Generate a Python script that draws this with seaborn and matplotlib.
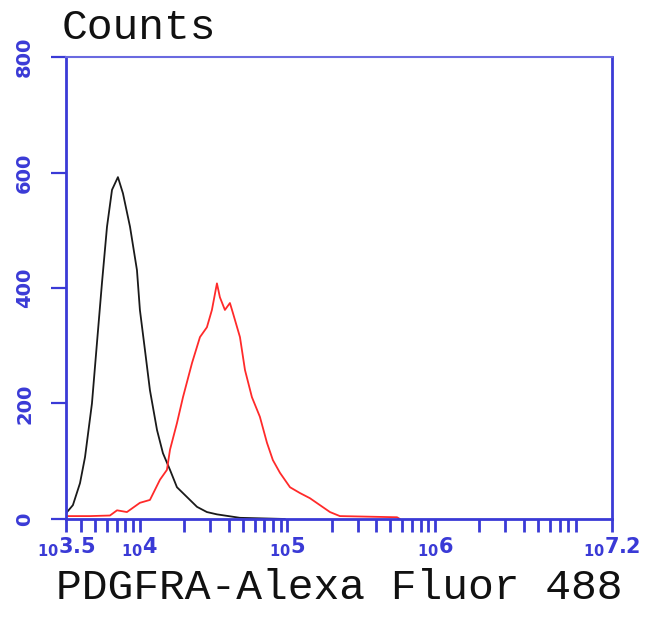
import numpy as np
import pandas as pd
import matplotlib
matplotlib.use("Agg")
import matplotlib.pyplot as plt
import matplotlib.ticker as mticker
import seaborn as sns

# Histogram traces (log10 intensity, counts)
control_log = [3.50, 3.514, 3.547, 3.595, 3.629, 3.676, 3.710, 3.744, 3.778, 3.812,
               3.852, 3.886, 3.934, 3.981, 4.001, 4.035, 4.069, 4.117, 4.157, 4.205,
               4.252, 4.320, 4.388, 4.455, 4.523, 4.679, 4.984]
control_counts = [10, 14, 24, 62, 107, 200, 305, 409, 506, 570,
                  592, 564, 506, 431, 362, 293, 223, 154, 114, 85,
                  55, 38, 21, 12, 8, 2, 0]

pdgfra_log = [3.50, 3.663, 3.798, 3.846, 3.913, 4.001, 4.069, 4.137, 4.184, 4.205,
              4.252, 4.293, 4.354, 4.408, 4.455, 4.489, 4.523, 4.543, 4.577, 4.611,
              4.631, 4.679, 4.713, 4.760, 4.814, 4.862, 4.902, 4.950, 5.018, 5.085,
              5.153, 5.221, 5.289, 5.356, 5.743, 5.763]
pdgfra_counts = [5, 5, 6, 15, 12, 28, 33, 68, 85, 120,
                 166, 211, 270, 315, 332, 362, 408, 384, 362, 374,
                 357, 315, 258, 211, 177, 132, 102, 80, 55, 45,
                 36, 24, 12, 5, 3, 0]

y_ticks = [0, 200, 400, 600, 800]
x_major_exp = [3.5, 4, 5, 6, 7.2]
x_major_labels = ["3.5", "4", "5", "6", "7.2"]

df = pd.concat([
    pd.DataFrame({"x": 10 ** np.array(control_log), "y": control_counts, "Sample": "control"}),
    pd.DataFrame({"x": 10 ** np.array(pdgfra_log), "y": pdgfra_counts, "Sample": "PDGFRA"}),
], ignore_index=True)

colors = {"control": "#1a1a1a", "PDGFRA": "#ff2a2a"}
axis_blue = "#3a3ad6"

sns.set_style("white")
plt.rcParams["font.family"] = ["DejaVu Sans"]
plt.rcParams["mathtext.fontset"] = "dejavusans"

fig = plt.figure(figsize=(6.5, 6.28), dpi=100)
ax = fig.add_axes([0.1015, 0.1736, 0.84, 0.7356])

sns.lineplot(data=df, x="x", y="y", hue="Sample", palette=colors, estimator=None,
             sort=False, linewidth=1.3, legend=False, ax=ax)

ax.set_xscale("log")
ax.set_xlim(10 ** 3.5, 10 ** 7.2)
ax.set_ylim(0, 800)

ax.xaxis.set_major_locator(mticker.FixedLocator([10 ** e for e in x_major_exp]))
ax.xaxis.set_major_formatter(mticker.FixedFormatter(
    [r"${}_{\mathbf{10}}\mathbf{" + lab + "}$" for lab in x_major_labels]))
ax.xaxis.set_minor_locator(mticker.LogLocator(base=10, subs=np.arange(2, 10)))
ax.xaxis.set_minor_formatter(mticker.NullFormatter())

ax.set_yticks(y_ticks)
ax.set_yticklabels([str(v) for v in y_ticks], rotation=90, va="center",
                   fontweight="bold")

for s in ax.spines.values():
    s.set_color(axis_blue)
    s.set_linewidth(2)
ax.spines["top"].set_linewidth(1.5)
ax.spines["top"].set_color("#6a6ae0")

ax.tick_params(axis="x", which="both", bottom=True, direction="out", length=9, width=2,
               colors=axis_blue, labelsize=15, pad=3)
ax.tick_params(axis="y", left=True, direction="out", length=11, width=1.6,
               colors=axis_blue, labelsize=14, pad=12)

ax.set_xlabel("PDGFRA-Alexa Fluor 488", family="Liberation Mono", fontsize=31,
              color="#111111", labelpad=6)
ax.set_ylabel("")
ax.text(-0.008, 1.02, "Counts", transform=ax.transAxes, family="Liberation Mono",
        fontsize=31, color="#111111", ha="left", va="bottom")

plt.savefig("out.png", dpi=100)
